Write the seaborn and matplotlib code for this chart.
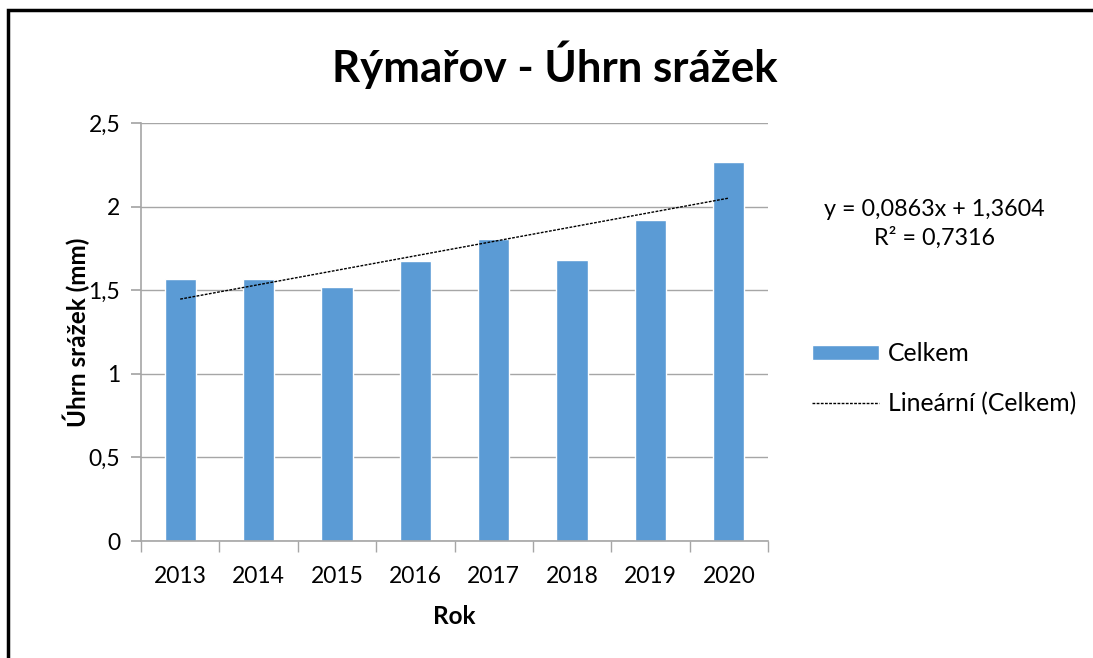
"""Rýmařov - Úhrn srážek, bar chart with linear trend."""

import numpy as np
import seaborn as sns
import matplotlib.pyplot as plt
from matplotlib.patches import Rectangle
from matplotlib.ticker import FuncFormatter, FixedLocator

years = [2013, 2014, 2015, 2016, 2017, 2018, 2019, 2020]
uhrn = [1.567, 1.565, 1.52, 1.675, 1.806, 1.68, 1.92, 2.267]
# trend from the chart's own equation
slope = 0.0863
intercept = 1.3604
eq_text = "y = 0,0863x + 1,3604\nR² = 0,7316"

sns.set_theme(style="white")
plt.rcParams['font.family'] = ['Lato', 'DejaVu Sans']
plt.rcParams['text.color'] = 'black'
plt.rcParams['axes.labelcolor'] = 'black'
plt.rcParams['xtick.color'] = 'black'
plt.rcParams['ytick.color'] = 'black'

fig = plt.figure(figsize=(10.93, 6.58), dpi=100)
ax = fig.add_axes([141/1093, 117/658, 627/1093, 418/658])

sns.barplot(x=[str(y) for y in years], y=uhrn, color="#5B9BD5", width=0.4,
            saturation=1, label="Celkem", ax=ax)
pos = np.arange(len(years))
trend = slope * (pos + 1) + intercept
sns.lineplot(x=pos, y=trend, color="black", linestyle=(0, (2, 1)), linewidth=1,
             label="Lineární (Celkem)", ax=ax)

ax.set_ylim(0, 2.5)
ax.set_xlim(-0.5, len(years) - 0.5)
ax.set_yticks(np.arange(0, 2.51, 0.5))
ax.yaxis.set_major_formatter(FuncFormatter(lambda v, p: f"{v:g}".replace(".", ",")))
ax.yaxis.grid(True, color="#A6A6A6", linewidth=1)
ax.set_axisbelow(True)
for s in ["top", "right"]:
    ax.spines[s].set_visible(False)
for s in ["left", "bottom"]:
    ax.spines[s].set_color("#A6A6A6")
    ax.spines[s].set_linewidth(1.2)
ax.tick_params(axis="y", which="major", length=7, color="#A6A6A6", left=True,
               labelsize=16.5, pad=8, labelcolor="black")
ax.tick_params(axis="x", which="major", length=0, labelsize=16.5, pad=18,
               labelcolor="black")
ax.xaxis.set_minor_locator(FixedLocator(np.arange(-0.5, len(years), 1)))
ax.tick_params(axis="x", which="minor", length=8, color="#A6A6A6", bottom=True)

ax.set_xlabel("Rok", fontsize=17.5, fontweight="bold", labelpad=13)
ax.set_ylabel("Úhrn srážek (mm)", fontsize=17.5, fontweight="bold", labelpad=-1)
fig.text(555/1093, 1 - 65/658, "Rýmařov - Úhrn srážek", fontsize=31.5,
         fontweight="bold", ha="center", va="center")

fig.text(934/1093, 1 - 224/658, eq_text, fontsize=16.8, ha="center", va="center",
         linespacing=1.4)

ax.legend().remove()
h, l = ax.get_legend_handles_labels()
order = [l.index("Celkem"), l.index("Lineární (Celkem)")]
fig.legend([h[i] for i in order], [l[i] for i in order], loc="center left",
           bbox_to_anchor=(790/1093, 1 - 379/658), frameon=False, fontsize=17.8,
           handlelength=2.7, handleheight=0.6, handletextpad=0.35,
           labelspacing=1.1)

fig.patches.append(Rectangle((8/1093, -0.1), 1.2, 1.1 - 10.5/658,
                             transform=fig.transFigure, fill=False,
                             edgecolor="black", linewidth=2.5))

fig.savefig("out.png", dpi=100)
